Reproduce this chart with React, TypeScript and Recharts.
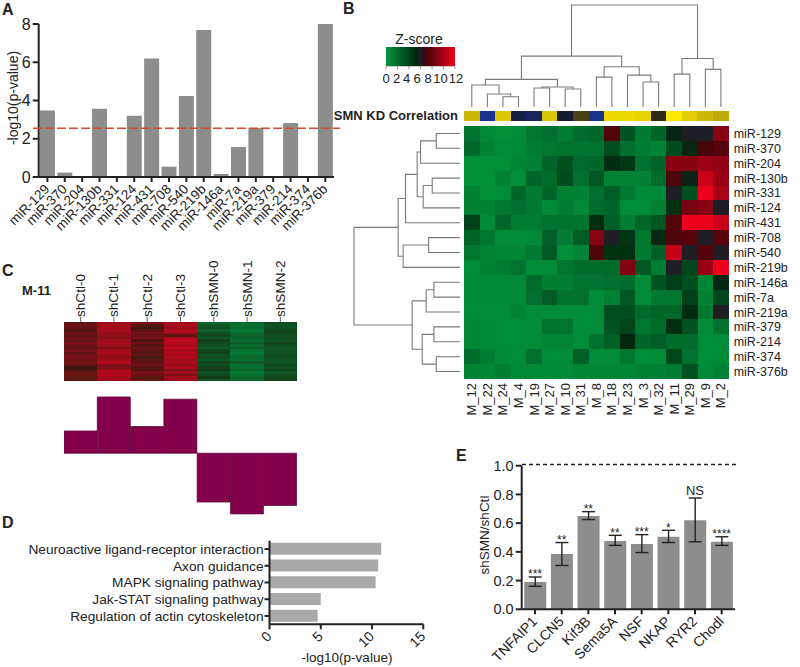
import {
  Bar,
  BarChart,
  ComposedChart,
  ErrorBar,
  LabelList,
  Line,
  LineChart,
  Scatter,
  ScatterChart,
  XAxis,
  YAxis,
} from 'recharts'

const FONT = '"Liberation Sans", Arial, sans-serif'
const INK = '#222'
const AXIS = { stroke: INK, strokeWidth: 2 }

// panel A
const mirNames = ['miR-129', 'miR-370', 'miR-204', 'miR-130b', 'miR-331', 'miR-124', 'miR-431', 'miR-708', 'miR-540', 'miR-219b', 'miR-146a', 'miR-7a', 'miR-219a', 'miR-379', 'miR-214', 'miR-374', 'miR-376b']
const mirPvalues = [3.48, 0.23, 0, 3.57, 0, 3.2, 6.19, 0.54, 4.23, 7.69, 0.16, 1.57, 2.56, 0, 2.82, 0, 8]
const pThreshold = 2.55

// panel B
const moduleNames = ['M_12', 'M_22', 'M_24', 'M_4', 'M_19', 'M_27', 'M_10', 'M_31', 'M_8', 'M_18', 'M_23', 'M_3', 'M_32', 'M_11', 'M_29', 'M_9', 'M_2']
const smnCorrelation = [0.78, -0.92, 0.86, -0.35, -0.55, 0.84, -0.18, 0.22, -0.9, 0.93, 0.93, 0.9, 0.1, 1, 0.88, 0.78, 0.72]
const zScores = [
  [1.6, 0.6, 0.4, 0.5, 1.5, 1.9, 1.2, 2, 2.2, 7.4, 3.2, 1.3, 2.3, 5.4, 6, 6, 9],
  [2.1, 1, 0.5, 0.6, 1.2, 1.5, 1.6, 1.6, 1.6, 3.4, 1.9, 1.2, 0.9, 3.5, 5.4, 7, 7.5],
  [0.3, 0.4, 0.4, 0.8, 1, 2.4, 3.3, 2, 2.2, 5, 4.5, 1.7, 2.4, 9, 9, 9.6, 9.3],
  [0.3, 0.3, 1, 0.4, 2.2, 2, 3.6, 1.8, 3, 0.9, 0.9, 1, 2, 7.3, 5.5, 11, 9.5],
  [1, 0.4, 0.5, 2.2, 1.3, 2.3, 1, 1, 1.9, 2.7, 1.3, 0.6, 0.6, 6, 3.3, 12, 10],
  [1, 1, 1.5, 1.9, 1.4, 0.6, 1.2, 0.6, 2, 2.3, 0.5, 0.5, 1, 4.8, 8.5, 9, 6],
  [4, 0.6, 2.2, 1.1, 1.2, 1.7, 1.7, 1.6, 5, 2.6, 1.1, 2.2, 3, 7.4, 12, 12, 11],
  [2.2, 1.5, 0.5, 0.5, 0.6, 2.6, 1.2, 2.7, 9, 6, 4.6, 1.5, 5.4, 7.3, 7.6, 6, 7.6],
  [1.5, 0.9, 0.7, 0.7, 1.3, 2.9, 0.4, 0.9, 7.3, 4.7, 4.8, 1.4, 2.6, 10.8, 6, 7.5, 6],
  [0.5, 1, 1.2, 1.6, 0.5, 0.5, 1.5, 2, 2, 2, 8.8, 3, 1.2, 6, 3.7, 9.5, 12],
  [0.6, 0.6, 0.6, 0.6, 2, 1.1, 1.1, 1.6, 1.6, 1.9, 2, 0.5, 3.2, 4.2, 3.3, 0.7, 5.4],
  [0.6, 0.6, 0.6, 0.6, 1.8, 2.8, 1.7, 1.7, 0.5, 1, 3, 0.5, 1.4, 1.5, 4, 1, 3.7],
  [0.5, 0.5, 0.5, 0.9, 0.5, 0.5, 0.5, 0.5, 0.5, 3.4, 3.4, 2, 2.3, 2.2, 5, 1.4, 6],
  [0.7, 0.6, 0.5, 0.5, 0.5, 1.6, 1.6, 0.5, 0.5, 3.2, 3.9, 1.5, 2, 4.9, 3.2, 0.5, 1.7],
  [0.7, 0.6, 0.5, 0.5, 0.5, 0.8, 0.8, 0.5, 1.7, 2.5, 5.2, 2.2, 2.8, 2, 2, 0.5, 0.5],
  [2, 1.2, 0.6, 0.5, 1.8, 0.5, 0.5, 2.6, 0.5, 0.5, 1.4, 0.5, 0.5, 3.7, 1.6, 0.5, 0.5],
  [0.9, 0.7, 1.1, 0.6, 0.6, 0.6, 0.6, 0.7, 0.7, 0.7, 0.7, 1, 1, 1.2, 3.2, 0.6, 0.9],
]
const zLegendSteps = [0.25, 0.75, 1.25, 1.75, 2.25, 2.75, 3.25, 3.75, 4.25, 4.75, 5.25, 5.75, 6.25, 6.75, 7.25, 7.75, 8.25, 8.75, 9.25, 9.75, 10.25, 10.75, 11.25, 11.75]
const zLegendTicks = [0, 2, 4, 6, 8, 10, 12]

// [child, child, height]: a child above 16 points at an earlier merge
const moduleMerges = [
  [2, 3, 10.3], [1, 17, 13], [0, 18, 22], [4, 5, 19], [6, 7, 18], [20, 21, 20], [19, 22, 27.7], [8, 9, 30],
  [11, 12, 25], [10, 25, 32], [24, 26, 40.3], [23, 27, 51], [13, 14, 33], [15, 16, 37.7], [29, 30, 48.7], [28, 31, 102.3],
]
const mirMerges = [
  [0, 1, 23.7], [17, 2, 39.3], [3, 4, 27.7], [19, 5, 36.7], [18, 20, 42.7], [21, 6, 54.3], [7, 8, 31.3], [23, 9, 56.7],
  [22, 24, 61.7], [10, 11, 26], [26, 12, 33.7], [13, 14, 26], [15, 16, 23.7], [28, 29, 37.7], [27, 30, 47.7], [25, 31, 105.7],
]

// panel C
const sampleNames = ['shCtl-0', 'shCtl-1', 'shCtl-2', 'shCtl-3', 'shSMN-0', 'shSMN-1', 'shSMN-2']
const sampleExpression = [
  [1.1, 1.3, 1.2, 0.9, 1.4, 1.1, 1.4, 1.2, 1.5, 1.3, 1.2, 1.5, 1.1, 1.4, 1.6, 1.3, 1.5, 1.2, 0.4, 0.6, 1.2, 1.4, 1.1, 1.0],
  [2.1, 2.3, 2.2, 2.3, 2.0, 1.9, 1.7, 2.2, 2.3, 2.1, 1.5, 2.2, 2.4, 2.1, 2.0, 2.2, 2.6, 1.5, 1.7, 2.3, 2.4, 2.6, 2.3, 2.1],
  [1.6, 1.0, 0.5, 1.1, 1.5, 1.3, 1.6, 0.8, 1.4, 0.9, 1.3, 1.1, 0.8, 1.2, 0.7, 1.0, 1.1, 1.4, 1.0, 0.9, 1.5, 1.3, 1.0, 1.2],
  [2.2, 2.4, 2.0, 2.5, 2.2, 1.1, 2.3, 2.8, 2.6, 2.4, 2.8, 2.3, 2.6, 2.2, 2.5, 2.2, 2.4, 2.0, 2.4, 1.5, 2.2, 1.6, 2.3, 2.1],
  [-2.1, -1.6, -1.4, -1.9, -1.4, -1.2, -1.6, -1.0, -1.2, -1.4, -1.7, -1.2, -1.0, -1.5, -1.3, -1.7, -1.1, -1.4, -1.0, -0.9, -1.4, -1.3, -0.8, -1.5],
  [-2.1, -2.4, -2.2, -2.5, -2.2, -1.9, -2.0, -2.2, -1.8, -2.2, -1.8, -2.4, -2.6, -2.4, -2.1, -2.3, -1.7, -2.3, -2.4, -2.0, -2.5, -2.3, -2.1, -2.0],
  [-1.3, -1.5, -1.4, -1.1, -1.2, -1.4, -1.3, -1.5, -1.1, -1.4, -1.6, -1.5, -1.5, -1.3, -1.4, -1.5, -1.6, -1.2, -1.5, -1.1, -1.6, -1.3, -1.2, -1.0],
]
const eigengene = [0.15, 0.38, 0.18, 0.365, -0.33, -0.41, -0.353]

// panel D
const pathwayNames = ['Neuroactive ligand-receptor interaction', 'Axon guidance', 'MAPK signaling pathway', 'Jak-STAT signaling pathway', 'Regulation of actin cytoskeleton']
const pathwayPvalues = [10.9, 10.6, 10.35, 5, 4.7]

// panel E
const geneNames = ['TNFAIP1', 'CLCN5', 'Kif3B', 'Sema5A', 'NSF', 'NKAP', 'RYR2', 'Chodl']
const geneRatios = [0.19, 0.385, 0.65, 0.475, 0.455, 0.505, 0.62, 0.47]
const geneLow = [0.16, 0.305, 0.625, 0.445, 0.395, 0.465, 0.47, 0.445]
const geneHigh = [0.225, 0.465, 0.68, 0.515, 0.52, 0.55, 0.775, 0.505]
const geneSignificance = ['***', '**', '**', '**', '***', '*', 'NS', '****']

const mirData = mirNames.map((name, i) => ({ name, value: mirPvalues[i] }))
const pathwayData = pathwayNames.map((name, i) => ({ name, value: pathwayPvalues[i] }))
const eigengeneData = sampleNames.map((name, i) => ({ name, value: eigengene[i] }))
const geneData = geneNames.map((name, i) => ({
  name,
  value: geneRatios[i],
  err: [geneRatios[i] - geneLow[i], geneHigh[i] - geneRatios[i]],
  top: geneHigh[i],
  sig: geneSignificance[i],
}))

const zScoreCells = zScores.flatMap((row, r) => row.map((value, c) => ({ col: c + 0.5, row: r + 0.5, value })))
const sampleCells = sampleExpression.flatMap((col, c) => col.map((value, r) => ({ col: c + 0.5, row: r + 0.5, value })))
const correlationCells = smnCorrelation.map((value, c) => ({ col: c + 0.5, row: 0.5, value }))
const legendCells = zLegendSteps.map((value) => ({ col: value, row: 0.5, value }))

const centers = (n: number) => Array.from({ length: n }, (_, i) => i + 0.5)

type Stop = [number, number, number, number]
const zStops: Stop[] = [[0, 0, 150, 60], [5.2, 0, 40, 15], [6, 30, 30, 36], [6.8, 62, 5, 10], [12, 235, 0, 30]]
const corrStops: Stop[] = [[-1, 28, 53, 150], [0, 20, 18, 25], [1, 255, 232, 0]]
const expressionStops: Stop[] = [[-3, 0, 135, 55], [0, 30, 30, 10], [3, 205, 5, 32]]

function ramp(stops: Stop[], v: number) {
  let i = 0
  while (i < stops.length - 2 && v > stops[i + 1][0]) i++
  const a = stops[i]
  const b = stops[i + 1]
  const t = Math.min(1, Math.max(0, (v - a[0]) / (b[0] - a[0])))
  const mix = (k: number) => Math.round(a[k] + (b[k] - a[k]) * t)
  return `rgb(${mix(1)},${mix(2)},${mix(3)})`
}

// turn a merge table into one open-bottomed U per merge
function dendrogramLinks(merges: number[][], leaves: number) {
  const pos: number[] = centers(leaves)
  const dist: number[] = Array(leaves).fill(0)
  return merges.map(([a, b, h]) => {
    const link = [
      { pos: pos[a], dist: dist[a] },
      { pos: pos[a], dist: h },
      { pos: pos[b], dist: h },
      { pos: pos[b], dist: dist[b] },
    ]
    pos.push((pos[a] + pos[b]) / 2)
    dist.push(h)
    return link
  })
}

function heatShape(w: number, h: number, stops: Stop[]) {
  return (p: any) => (
    <rect x={p.cx - w / 2} y={p.cy - h / 2} width={w} height={h} fill={ramp(stops, p.payload.value)} shapeRendering="crispEdges" />
  )
}

function noDot() {
  return <g />
}

function SlantTick({ x, y, payload, fontSize = 13.5 }: any) {
  return (
    <text x={x + 3} y={y + 6} textAnchor="end" fontSize={fontSize} fontFamily={FONT} fill={INK} transform={`rotate(-45 ${x + 3} ${y + 6})`}>
      {payload.value}
    </text>
  )
}

function SigLabel({ x, y, value }: any) {
  const isWord = value === 'NS'
  return (
    <text x={x} y={isWord ? y - 3 : y + 1.5} textAnchor="middle" fontSize={isWord ? 13 : 12} fontFamily={FONT} fill={INK}>
      {value}
    </text>
  )
}

function Panel({ left, top, children }: any) {
  return <div style={{ position: 'absolute', left, top }}>{children}</div>
}

// a level line that runs past the ends of the plot it belongs to
function LevelLine({ left, top, width, height, max, level, stroke, dash, strokeWidth }: any) {
  return (
    <Panel left={left} top={top}>
      <LineChart width={width} height={height} data={[{ x: 0, y: level }, { x: 1, y: level }]} margin={{ top: 0, right: 0, bottom: 0, left: 0 }}>
        <XAxis hide type="number" dataKey="x" domain={[0, 1]} />
        <YAxis hide domain={[0, max]} />
        <Line dataKey="y" stroke={stroke} strokeDasharray={dash} strokeWidth={strokeWidth} dot={false} isAnimationActive={false} />
      </LineChart>
    </Panel>
  )
}

function Dendrogram({ left, top, width, height, merges, horizontal, maxDist }: any) {
  const links = dendrogramLinks(merges, 17)
  const posDomain = [0, 17]
  const distDomain = [0, maxDist]
  return (
    <Panel left={left - 2} top={top - 2}>
      <ScatterChart width={width + 4} height={height + 4} margin={{ top: 2, right: 2, bottom: 2, left: 2 }}>
        {horizontal ? (
          <XAxis hide type="number" dataKey="dist" domain={distDomain} reversed />
        ) : (
          <XAxis hide type="number" dataKey="pos" domain={posDomain} />
        )}
        {horizontal ? (
          <YAxis hide type="number" dataKey="pos" domain={posDomain} reversed />
        ) : (
          <YAxis hide type="number" dataKey="dist" domain={distDomain} />
        )}
        {links.map((link, i) => (
          <Scatter key={i} data={link} line={{ stroke: '#7a7a7a', strokeWidth: 1.1 }} shape={noDot} isAnimationActive={false} />
        ))}
      </ScatterChart>
    </Panel>
  )
}

export default function App() {
  const heatW = 264.7
  const heatH = 253
  const cellW = heatW / 17
  const cellH = heatH / 17
  const sampleW = 233
  const sampleH = 59

  return (
    <div style={{ position: 'absolute', left: 0, top: 0, width: 800, height: 667, overflow: 'hidden', background: '#fff', fontFamily: FONT }}>
      {/* A */}
      <Panel left={0} top={0}>
        <BarChart width={340} height={240} data={mirData} barCategoryGap="7%" margin={{ top: 24, right: 6, bottom: 0, left: 0 }}>
          <XAxis dataKey="name" interval={0} height={63} axisLine={AXIS} tickLine={AXIS} tickSize={5} tick={<SlantTick />} />
          <YAxis width={38.7} domain={[0, 8]} ticks={[0, 2, 4, 6, 8]} axisLine={AXIS} tickLine={AXIS} tickSize={6} tickMargin={2} tick={{ fontSize: 16, fontFamily: FONT, fill: INK }} />
          <Bar dataKey="value" fill="#8d8d8d" isAnimationActive={false} />
        </BarChart>
      </Panel>
      <LevelLine left={33} top={24} width={307} height={153} max={8} level={pThreshold} stroke="#d9492c" dash="9 3" strokeWidth={1.6} />

      {/* B */}
      <Dendrogram left={464} top={5} width={heatW} height={102} merges={moduleMerges} maxDist={102.3} />
      <Dendrogram left={354} top={126} width={106} height={heatH} merges={mirMerges} maxDist={105.7} horizontal />
      <Panel left={376} top={47}>
        <ScatterChart width={92} height={42} margin={{ top: 0, right: 13, bottom: 0, left: 10 }}>
          <XAxis
            type="number"
            dataKey="col"
            domain={[0, 12]}
            ticks={zLegendTicks}
            interval={0}
            height={23}
            stroke="#999"
            tickSize={3}
            tick={(p: any) => (
              <text x={p.x + [0, -1, -2.5, -3.5, -4, -3, 1][zLegendTicks.indexOf(p.payload.value)]} y={p.y + 12} textAnchor="middle" fontSize={13} fontFamily={FONT} fill={INK}>
                {p.payload.value}
              </text>
            )}
          />
          <YAxis hide type="number" dataKey="row" domain={[0, 1]} />
          <Scatter data={legendCells} shape={heatShape(69 / 24, 19, zStops)} isAnimationActive={false} />
        </ScatterChart>
      </Panel>
      <Panel left={464} top={110.7}>
        <ScatterChart width={heatW} height={10.6} margin={{ top: 0, right: 0, bottom: 0, left: 0 }}>
          <XAxis hide type="number" dataKey="col" domain={[0, 17]} />
          <YAxis hide type="number" dataKey="row" domain={[0, 1]} />
          <Scatter data={correlationCells} shape={heatShape(cellW, 10.6, corrStops)} isAnimationActive={false} />
        </ScatterChart>
      </Panel>
      <Panel left={464} top={126}>
        <ScatterChart width={heatW + 66} height={heatH + 45} margin={{ top: 0, right: 0, bottom: 0, left: 0 }}>
          <XAxis
            type="number"
            dataKey="col"
            domain={[0, 17]}
            ticks={centers(17)}
            interval={0}
            height={45}
            axisLine={false}
            tickLine={false}
            tick={(p: any) => (
              <text x={p.x + 4.5} y={p.y - 4} textAnchor="end" fontSize={13} fontFamily={FONT} fill={INK} transform={`rotate(-90 ${p.x + 4.5} ${p.y - 4})`}>
                {moduleNames[p.payload.value - 0.5]}
              </text>
            )}
          />
          <YAxis
            type="number"
            dataKey="row"
            orientation="right"
            width={66}
            domain={[0, 17]}
            reversed
            ticks={centers(17)}
            interval={0}
            axisLine={false}
            tickLine={false}
            tick={(p: any) => (
              <text x={p.x - 3} y={p.y + 4.5} fontSize={12.5} fontFamily={FONT} fill={INK}>
                {mirNames[p.payload.value - 0.5]}
              </text>
            )}
          />
          <Scatter data={zScoreCells} shape={heatShape(cellW, cellH, zStops)} isAnimationActive={false} />
        </ScatterChart>
      </Panel>

      {/* C */}
      <Panel left={64} top={255}>
        <ScatterChart width={sampleW} height={sampleH + 67} margin={{ top: 0, right: 0, bottom: 0, left: 0 }}>
          <XAxis
            type="number"
            dataKey="col"
            orientation="top"
            domain={[0, 7]}
            ticks={centers(7)}
            interval={0}
            height={67}
            axisLine={false}
            stroke="#666"
            tickSize={5}
            tick={(p: any) => (
              <text x={p.x + 4.5} y={p.y + 2} fontSize={13.6} fontFamily={FONT} fill={INK} transform={`rotate(-90 ${p.x + 4.5} ${p.y + 2})`}>
                {sampleNames[p.payload.value - 0.5]}
              </text>
            )}
          />
          <YAxis hide type="number" dataKey="row" domain={[0, 24]} reversed />
          <Scatter data={sampleCells} shape={heatShape(sampleW / 7, sampleH / 24, expressionStops)} isAnimationActive={false} />
        </ScatterChart>
      </Panel>
      <Panel left={64} top={393.8}>
        <BarChart width={sampleW} height={125.8} data={eigengeneData} barCategoryGap={0} margin={{ top: 0, right: 0, bottom: 0, left: 0 }}>
          <XAxis dataKey="name" hide />
          <YAxis hide domain={[-0.45, 0.4]} />
          <Bar dataKey="value" fill="#85004b" stroke="#5a1038" strokeWidth={0.8} isAnimationActive={false} />
        </BarChart>
      </Panel>

      {/* D */}
      <Panel left={0} top={530}>
        <BarChart layout="vertical" width={432} height={120} data={pathwayData} barCategoryGap="13%" margin={{ top: 10.7, right: 8.7, bottom: 0, left: 0 }}>
          <XAxis type="number" domain={[0, 15]} ticks={[0, 5, 10, 15]} height={25.7} axisLine={AXIS} tickLine={AXIS} tickSize={5} tick={<SlantTick fontSize={14} />} />
          <YAxis type="category" dataKey="name" interval={0} width={269.5} axisLine={AXIS} tickLine={AXIS} tickSize={5} tickMargin={1} tick={{ fontSize: 13.7, fontFamily: FONT, fill: INK }} />
          <Bar dataKey="value" fill="#a9a9a9" isAnimationActive={false} />
        </BarChart>
      </Panel>

      {/* E */}
      <LevelLine left={521.7} top={450} width={217.3} height={159.3} max={1.1} level={1} stroke={INK} dash="4 3" strokeWidth={1.4} />
      <Panel left={470} top={450}>
        <ComposedChart width={268} height={217} data={geneData} barCategoryGap="9.5%" margin={{ top: 15.7, right: 3, bottom: 0, left: 0 }}>
          <XAxis dataKey="name" interval={0} height={57.7} axisLine={AXIS} tickLine={AXIS} tickSize={5} tick={<SlantTick fontSize={14} />} />
          <YAxis width={51.7} domain={[0, 1]} ticks={[0, 0.2, 0.4, 0.6, 0.8, 1]} tickFormatter={(v: number) => v.toFixed(1)} axisLine={AXIS} tickLine={AXIS} tickSize={6} tickMargin={2} tick={{ fontSize: 14.5, fontFamily: FONT, fill: INK }} />
          <Bar dataKey="value" fill="#8d8d8d" isAnimationActive={false}>
            <ErrorBar dataKey="err" width={6.5} stroke={INK} strokeWidth={1.4} isAnimationActive={false} />
          </Bar>
          <Line dataKey="top" stroke="none" dot={false} isAnimationActive={false}>
            <LabelList dataKey="sig" content={<SigLabel />} />
          </Line>
        </ComposedChart>
      </Panel>

      {/* loose text */}
      <svg width={800} height={667} style={{ position: 'absolute', left: 0, top: 0, pointerEvents: 'none' }} fontFamily={FONT} fill={INK}>
        <g fontSize={16} fontWeight="bold">
          <text x={2} y={15}>A</text>
          <text x={343} y={14}>B</text>
          <text x={2} y={276}>C</text>
          <text x={2} y={528}>D</text>
          <text x={456} y={461}>E</text>
        </g>
        <text x={13} y={98} textAnchor="middle" dominantBaseline="central" fontSize={14} transform="rotate(-90 13 98)">-log10(p-value)</text>
        <text x={419} y={44} textAnchor="middle" fontSize={14}>Z-score</text>
        <text x={458} y={120} textAnchor="end" fontSize={13} fontWeight="bold">SMN KD Correlation</text>
        <text x={22} y={295} fontSize={13} fontWeight="bold">M-11</text>
        <text x={347} y={662} textAnchor="middle" fontSize={13.5}>-log10(p-value)</text>
        <text x={484} y={535} textAnchor="middle" dominantBaseline="central" fontSize={13.5} transform="rotate(-90 484 535)">shSMN/shCtl</text>
      </svg>
    </div>
  )
}
